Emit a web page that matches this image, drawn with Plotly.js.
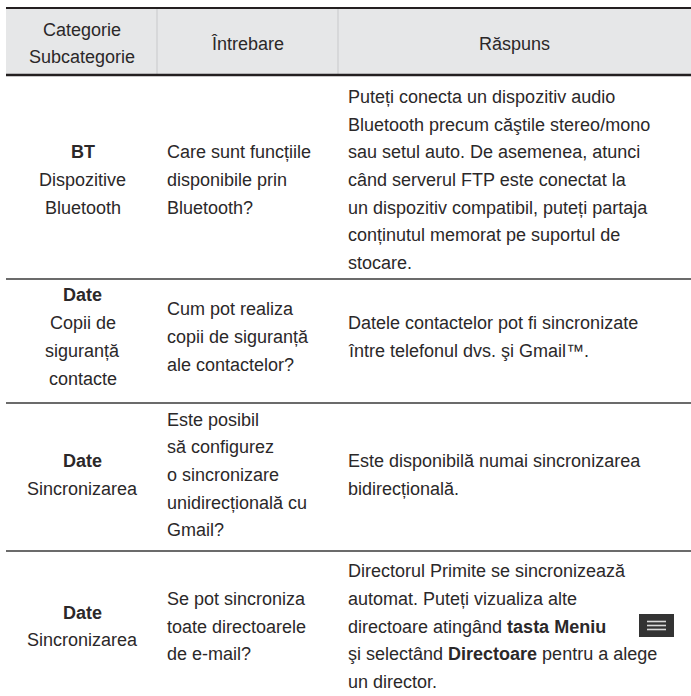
<!DOCTYPE html>
<html>
<head>
<meta charset="utf-8">
<script src="https://cdn.plot.ly/plotly-3.0.1.min.js"></script>
<style>html,body{margin:0;padding:0;background:#fff;}#chart{width:691px;height:696px;}</style>
</head>
<body>
<div id="chart"></div>
<script>
// ---- data (table content) ----
var headerLines = [["Categorie", "Subcategorie"], ["Întrebare"], ["Răspuns"]];
var categories = ["BT", "Date", "Date", "Date"];
var subcategories = [
  ["Dispozitive", "Bluetooth"],
  ["Copii de", "siguranță", "contacte"],
  ["Sincronizarea"],
  ["Sincronizarea"]
];
var questions = [
  ["Care sunt funcțiile", "disponibile prin", "Bluetooth?"],
  ["Cum pot realiza", "copii de siguranță", "ale contactelor?"],
  ["Este posibil", "să configurez", "o sincronizare", "unidirecțională cu", "Gmail?"],
  ["Se pot sincroniza", "toate directoarele", "de e-mail?"]
];
var answers = [
  ["Puteți conecta un dispozitiv audio", "Bluetooth precum căştile stereo/mono", "sau setul auto. De asemenea, atunci", "când serverul FTP este conectat la", "un dispozitiv compatibil, puteți partaja", "conținutul memorat pe suportul de", "stocare."],
  ["Datele contactelor pot fi sincronizate", "între telefonul dvs. şi Gmail™."],
  ["Este disponibilă numai sincronizarea", "bidirecțională."],
  ["Directorul Primite se sincronizează", "automat. Puteți vizualiza alte", "directoare atingând <b>tasta Meniu</b>", "şi selectând <b>Directoare</b> pentru a alege", "un director."]
];

// ---- layout geometry ----
var W = 691, H = 696;
var left = 6, right = 691;
var colEdges = [left, 157, 338, right];
var headerTop = 8, headerBottom = 75;
var rowEdges = [75, 279, 403, 551, 698];
var rowOffsets = [3, -4, -2, 2];
var lineGap = 27.7;
var FONT = "'Liberation Sans', Arial, Helvetica, sans-serif";
var TEXT_COLOR = "#2b2829";
var FS = 18;

var annotations = [];
var shapes = [];

function addLines(lines, x, cy, xanchor, firstBold) {
  var n = lines.length;
  for (var i = 0; i < n; i++) {
    var t = lines[i];
    if (firstBold && i === 0) t = "<b>" + t + "</b>";
    annotations.push({
      xref: "x", yref: "y", x: x, y: cy + (i - (n - 1) / 2) * lineGap,
      text: t, showarrow: false, xanchor: xanchor, yanchor: "middle",
      font: {family: FONT, size: FS, color: TEXT_COLOR}
    });
  }
}

// header band
shapes.push({type: "rect", xref: "x", yref: "y", x0: left, x1: right, y0: headerTop, y1: headerBottom,
  fillcolor: "#e6e7e8", line: {width: 0}, layer: "below"});
// header vertical dividers
for (var c = 1; c < 3; c++) {
  shapes.push({type: "line", xref: "x", yref: "y", x0: colEdges[c], x1: colEdges[c], y0: headerTop + 1, y1: headerBottom - 1,
    line: {color: "#c8c9cb", width: 1}});
}
// header top & bottom rules
shapes.push({type: "line", xref: "x", yref: "y", x0: left, x1: right, y0: headerTop, y1: headerTop, line: {color: "#231f20", width: 2.2}});
shapes.push({type: "line", xref: "x", yref: "y", x0: left, x1: right, y0: headerBottom, y1: headerBottom, line: {color: "#231f20", width: 2.5}});

// header text
var headerCy = (headerTop + headerBottom) / 2 + 2;
for (var c = 0; c < 3; c++) {
  addLines(headerLines[c], (colEdges[c] + colEdges[c + 1]) / 2, headerCy, "center", false);
}

// row separators
for (var r = 1; r < rowEdges.length - 1; r++) {
  shapes.push({type: "line", xref: "x", yref: "y", x0: left, x1: right,
    y0: rowEdges[r], y1: rowEdges[r], line: {color: "#3a3a3a", width: 1.3}});
}

// body text
for (var r = 0; r < categories.length; r++) {
  var cy = (rowEdges[r] + rowEdges[r + 1]) / 2 + rowOffsets[r];
  addLines([categories[r]].concat(subcategories[r]), (colEdges[0] + colEdges[1]) / 2 + 1, cy, "center", true);
  addLines(questions[r], colEdges[1] + 8, cy, "left", false);
  addLines(answers[r], colEdges[2] + 8, cy, "left", false);
}

// menu key icon (row 4)
shapes.push({type: "rect", xref: "x", yref: "y", x0: 639, x1: 674, y0: 614, y1: 637, fillcolor: "#333333", line: {width: 0}});
[621.5, 625.5, 629.5].forEach(function (yy) {
  shapes.push({type: "line", xref: "x", yref: "y", x0: 647, x1: 666, y0: yy, y1: yy, line: {color: "#d9d9d9", width: 1.6}});
});

var layout = {
  width: W, height: H,
  margin: {l: 0, r: 0, t: 0, b: 0},
  paper_bgcolor: "#ffffff", plot_bgcolor: "#ffffff",
  xaxis: {range: [0, W], visible: false, fixedrange: true},
  yaxis: {range: [H, 0], visible: false, fixedrange: true},
  showlegend: false,
  shapes: shapes,
  annotations: annotations
};

Plotly.newPlot("chart", [], layout, {displayModeBar: false, staticPlot: true});
</script>
</body>
</html>
